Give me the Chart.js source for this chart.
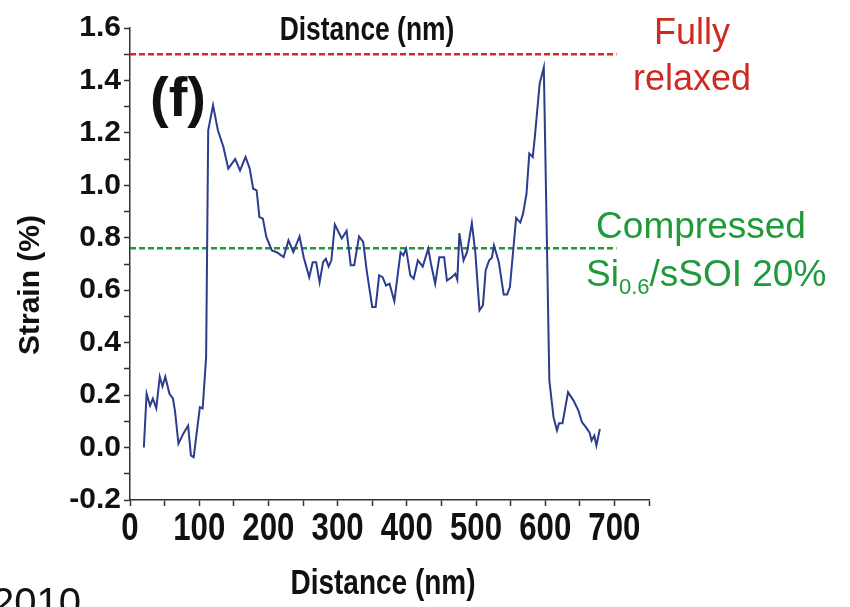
<!DOCTYPE html>
<html lang="en">
<head>
  <meta charset="UTF-8">
  <title>Strain profile</title>
  <script src="https://cdn.jsdelivr.net/npm/chart.js"></script>
  <style>
    body {
      margin: 0;
      background: #ffffff;
    }
    .wrap {
      width: 850px;
      height: 607px;
      position: relative;
    }
  </style>
</head>
<body>
  <div class="wrap">
    <canvas id="strainChart" width="850" height="607"></canvas>
  </div>

  <script>
// distance (nm) and strain (%)
const distance = [20, 24, 29, 33, 38, 43, 47, 51, 57, 62, 65, 70, 77, 84, 88, 92, 101, 105, 110, 113,
  120, 127, 135, 142, 152, 159, 167, 173, 178, 183, 187, 192, 197, 205, 212, 222, 229, 236, 245, 251,
  259, 264, 269, 274, 279, 283, 287, 291, 296, 306, 313, 319, 324, 331, 337, 342, 350, 355, 360, 365,
  370, 375, 382, 391, 395, 399, 405, 410, 416, 423, 431, 435, 441, 447, 454, 458, 465, 470, 473, 476,
  482, 487, 494, 499, 505, 510, 514, 519, 523, 526, 533, 540, 545, 549, 558, 564, 568, 573, 577, 582,
  585, 592, 598, 606, 612, 617, 620, 625, 633, 641, 648, 653, 659, 664, 667, 671, 674, 679];
const strain = [0.00, 0.205, 0.16, 0.187, 0.15, 0.27, 0.233, 0.27, 0.205, 0.187, 0.14, 0.015, 0.053, 0.084, -0.03, -0.037, 0.154, 0.149, 0.345, 1.21,
  1.305, 1.21, 1.146, 1.064, 1.10, 1.057, 1.108, 1.064, 0.987, 0.981, 0.879, 0.873, 0.803, 0.752, 0.745, 0.726, 0.79, 0.745, 0.805, 0.726,
  0.65, 0.707, 0.707, 0.63, 0.707, 0.72, 0.69, 0.714, 0.85, 0.797, 0.826, 0.695, 0.695, 0.805, 0.784, 0.676, 0.536, 0.536, 0.657, 0.65,
  0.618, 0.625, 0.558, 0.745, 0.733, 0.758, 0.657, 0.644, 0.714, 0.69, 0.758, 0.70, 0.625, 0.726, 0.726, 0.637, 0.65, 0.663, 0.64, 0.818,
  0.714, 0.745, 0.856, 0.745, 0.523, 0.542, 0.676, 0.714, 0.724, 0.771, 0.707, 0.584, 0.584, 0.612, 0.876, 0.858, 0.892, 0.968, 1.121, 1.108,
  1.184, 1.388, 1.45, 0.256, 0.116, 0.065, 0.093, 0.093, 0.211, 0.179, 0.141, 0.097, 0.077, 0.058, 0.027, 0.046, 0.008, 0.071];

// reference levels
const refRange = [0, 703];
const fullyRelaxed = 1.5;
const compressed = 0.76;

// axis settings
const xMin = 0, xMax = 750, xStep = 50;
const xLabels = [0, 100, 200, 300, 400, 500, 600, 700];
const yMin = -0.2, yMax = 1.6, yStep = 0.1;

const profile = distance.map((d, i) => ({ x: d, y: strain[i] }));
const relaxedLine = refRange.map(d => ({ x: d, y: fullyRelaxed }));
const compressedLine = refRange.map(d => ({ x: d, y: compressed }));

const sans = '"Liberation Sans", Arial, sans-serif';

// condensed bold text, squeezed horizontally like Arial Narrow
function narrowText(ctx, text, x, y, size) {
  ctx.save();
  ctx.translate(x, y);
  ctx.scale(0.8, 1);
  ctx.font = 'bold ' + size + 'px ' + sans;
  ctx.fillText(text, 0, 0);
  ctx.restore();
}

// all the loose labels around the plot
const labelPlugin = {
  id: 'labels',
  afterDraw(chart) {
    const ctx = chart.ctx;
    const xs = chart.scales.x;
    ctx.save();
    ctx.textAlign = 'center';
    ctx.textBaseline = 'middle';
    ctx.fillStyle = '#111';

    // x tick labels
    xLabels.forEach(v => {
      narrowText(ctx, String(v), xs.getPixelForValue(v), 529, 39);
    });

    narrowText(ctx, 'Distance (nm)', 367, 31, 33);
    narrowText(ctx, 'Distance (nm)', 383, 584, 35);

    ctx.font = 'bold 56px ' + sans;
    ctx.fillText('(f)', 178, 101);

    ctx.save();
    ctx.translate(31, 285);
    ctx.rotate(-Math.PI / 2);
    ctx.font = 'bold 30px ' + sans;
    ctx.fillText('Strain (%)', 0, 0);
    ctx.restore();

    ctx.fillStyle = '#cf2a20';
    ctx.font = '36px ' + sans;
    ctx.fillText('Fully', 692, 34);
    ctx.fillText('relaxed', 692, 80);

    ctx.fillStyle = '#1f9a3a';
    ctx.font = '37px ' + sans;
    ctx.fillText('Compressed', 701, 228);
    // Si0.6/sSOI 20% with subscript
    ctx.textAlign = 'left';
    let x = 586;
    ctx.fillText('Si', x, 276);
    x += ctx.measureText('Si').width;
    ctx.font = '22px ' + sans;
    ctx.fillText('0.6', x, 288);
    x += ctx.measureText('0.6').width;
    ctx.font = '37px ' + sans;
    ctx.fillText('/sSOI 20%', x, 276);

    ctx.fillStyle = '#111';
    ctx.font = '40px ' + sans;
    ctx.textBaseline = 'alphabetic';
    ctx.fillText('2010', -8, 616);
    ctx.restore();
  }
};

const ctx = document.getElementById('strainChart').getContext('2d');
const strainChart = new Chart(ctx, {
  type: 'line',
  data: {
    datasets: [
      {
        label: 'Strain',
        data: profile,
        borderColor: '#2c3c8e',
        borderWidth: 2,
        pointRadius: 0,
        tension: 0
      },
      {
        label: 'Fully relaxed',
        data: relaxedLine,
        borderColor: '#cf2a20',
        borderWidth: 2.5,
        borderDash: [6, 3],
        pointRadius: 0
      },
      {
        label: 'Compressed',
        data: compressedLine,
        borderColor: '#1f9a3a',
        borderWidth: 2.5,
        borderDash: [6, 3],
        pointRadius: 0
      }
    ]
  },
  options: {
    responsive: false,
    animation: false,
    layout: {
      padding: { top: 28, right: 201, left: 0, bottom: 0 }
    },
    plugins: {
      legend: { display: false },
      tooltip: { enabled: false }
    },
    scales: {
      x: {
        type: 'linear',
        min: xMin,
        max: xMax,
        afterFit: (scale) => { scale.height = 107; },
        ticks: {
          stepSize: xStep,
          autoSkip: false,
          maxRotation: 0,
          color: 'rgba(0,0,0,0)',
          font: { size: 10 },
          callback: () => ''
        },
        grid: {
          drawOnChartArea: false,
          drawTicks: true,
          tickLength: 6,
          tickColor: '#333',
          tickWidth: 1.5
        },
        border: { display: true, color: '#333', width: 1.5 }
      },
      y: {
        min: yMin,
        max: yMax,
        afterFit: (scale) => { scale.width = 130; },
        ticks: {
          stepSize: yStep,
          autoSkip: false,
          padding: 3,
          color: '#111',
          font: { family: sans, size: 30, weight: 'bold' },
          callback: (v) => {
            const k = Math.round(v * 10);
            return k % 2 === 0 ? (k / 10).toFixed(1) : '';
          }
        },
        grid: {
          drawOnChartArea: false,
          drawTicks: true,
          tickLength: 6,
          tickColor: '#333',
          tickWidth: 1.5
        },
        border: { display: true, color: '#333', width: 1.5 }
      }
    }
  },
  plugins: [labelPlugin]
});
  </script>
</body>
</html>
